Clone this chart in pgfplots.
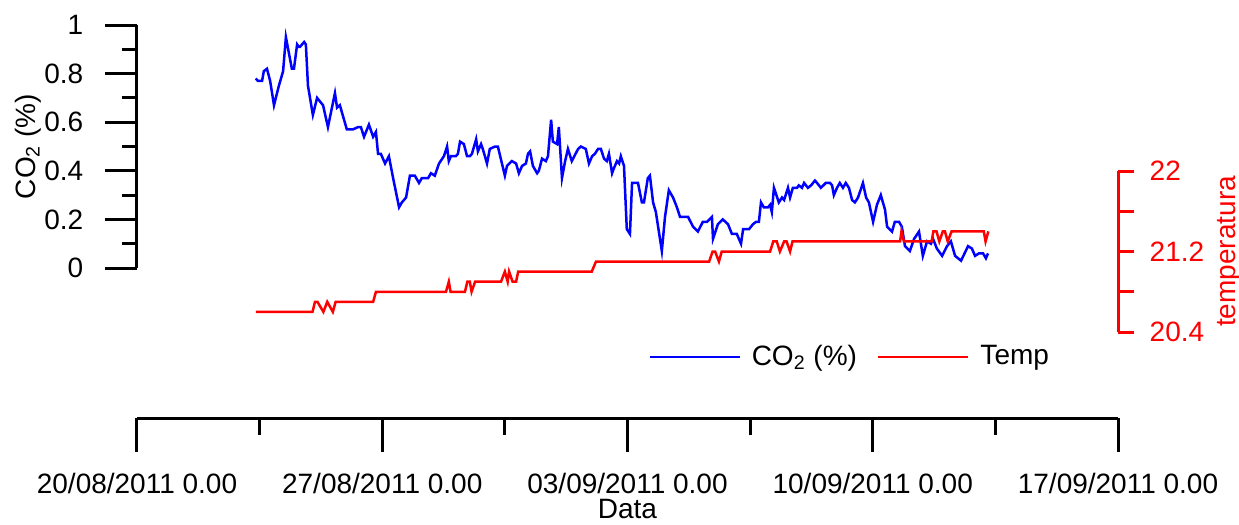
\documentclass[border=0pt]{standalone}
\usepackage{pgfplots}
\pgfplotsset{compat=1.18}
\usepackage{pgfplotstable}
\usepackage{fontspec}
\setmainfont{Liberation Sans}
\newlength\px \setlength\px{0.5pt}
\definecolor{cblue}{RGB}{0,0,255}
\definecolor{cred}{RGB}{255,0,0}

\pgfplotstableread{
day co2
3.39 0.78
3.45 0.77
3.57 0.77
3.62 0.81
3.71 0.82
3.80 0.77
3.91 0.67
4.05 0.75
4.17 0.81
4.25 0.95
4.42 0.82
4.48 0.82
4.57 0.92
4.62 0.91
4.65 0.91
4.77 0.93
4.82 0.92
4.88 0.75
5.02 0.63
5.14 0.70
5.31 0.67
5.45 0.58
5.65 0.72
5.71 0.66
5.79 0.67
5.99 0.57
6.16 0.57
6.31 0.58
6.39 0.58
6.48 0.54
6.62 0.59
6.74 0.54
6.82 0.56
6.88 0.47
6.96 0.47
7.08 0.43
7.19 0.46
7.31 0.37
7.48 0.25
7.56 0.27
7.68 0.29
7.79 0.38
7.93 0.38
8.05 0.35
8.13 0.37
8.31 0.37
8.39 0.39
8.50 0.38
8.62 0.43
8.76 0.46
8.85 0.50
8.90 0.44
8.96 0.46
9.10 0.46
9.16 0.47
9.22 0.52
9.33 0.51
9.42 0.46
9.50 0.46
9.56 0.47
9.68 0.53
9.73 0.48
9.82 0.51
9.87 0.49
9.99 0.43
10.07 0.49
10.22 0.50
10.30 0.50
10.50 0.38
10.56 0.42
10.70 0.44
10.82 0.43
10.90 0.39
10.99 0.42
11.10 0.43
11.16 0.47
11.22 0.48
11.30 0.42
11.42 0.39
11.47 0.40
11.56 0.45
11.67 0.44
11.73 0.46
11.82 0.61
11.87 0.52
11.99 0.51
12.04 0.58
12.13 0.37
12.22 0.44
12.30 0.49
12.41 0.44
12.59 0.49
12.67 0.50
12.81 0.49
12.90 0.43
12.99 0.46
13.07 0.47
13.16 0.49
13.24 0.49
13.33 0.45
13.41 0.44
13.47 0.47
13.56 0.39
13.61 0.41
13.70 0.44
13.76 0.43
13.81 0.46
13.90 0.42
13.98 0.16
14.07 0.14
14.13 0.35
14.30 0.35
14.41 0.27
14.47 0.27
14.58 0.37
14.64 0.38
14.73 0.27
14.81 0.23
14.98 0.07
15.07 0.21
15.18 0.32
15.30 0.29
15.41 0.25
15.50 0.21
15.61 0.21
15.73 0.21
15.87 0.17
16.01 0.15
16.15 0.19
16.27 0.19
16.41 0.21
16.44 0.12
16.58 0.18
16.72 0.20
16.87 0.18
16.98 0.14
17.12 0.14
17.24 0.10
17.30 0.16
17.41 0.16
17.47 0.16
17.58 0.18
17.67 0.19
17.75 0.19
17.81 0.27
17.89 0.25
18.01 0.25
18.07 0.26
18.12 0.23
18.18 0.33
18.32 0.27
18.41 0.29
18.47 0.28
18.58 0.33
18.64 0.29
18.72 0.33
18.84 0.33
18.89 0.34
18.98 0.33
19.04 0.35
19.15 0.33
19.24 0.34
19.35 0.36
19.41 0.35
19.52 0.33
19.66 0.35
19.78 0.35
19.84 0.34
19.89 0.30
19.98 0.33
20.06 0.35
20.15 0.33
20.23 0.35
20.32 0.33
20.41 0.28
20.49 0.27
20.58 0.29
20.72 0.35
20.81 0.29
20.89 0.27
21.01 0.19
21.12 0.26
21.23 0.30
21.35 0.24
21.41 0.17
21.55 0.15
21.63 0.19
21.75 0.19
21.83 0.17
21.92 0.09
22.06 0.07
22.18 0.12
22.32 0.15
22.43 0.05
22.55 0.11
22.66 0.10
22.72 0.12
22.83 0.08
22.98 0.05
23.12 0.09
23.23 0.11
23.35 0.05
23.52 0.03
23.72 0.09
23.83 0.08
23.92 0.05
24.03 0.06
24.15 0.06
24.23 0.04
24.29 0.06
}\co

\pgfplotstableread{
day temp
3.39 20.6
5.01 20.6
5.08 20.7
5.15 20.7
5.32 20.6
5.43 20.7
5.59 20.6
5.67 20.7
6.74 20.7
6.82 20.8
8.82 20.8
8.90 20.9
8.95 20.8
9.36 20.8
9.43 20.9
9.50 20.9
9.55 20.8
9.65 20.9
10.39 20.9
10.50 21.0
10.58 20.9
10.62 21.0
10.72 20.9
10.82 20.9
10.88 21.0
12.98 21.0
13.10 21.1
16.33 21.1
16.43 21.2
16.50 21.2
16.61 21.1
16.69 21.2
18.07 21.2
18.16 21.3
18.26 21.3
18.35 21.2
18.47 21.3
18.54 21.3
18.64 21.2
18.71 21.3
21.78 21.3
21.82 21.4
21.89 21.3
22.68 21.3
22.73 21.4
22.82 21.4
22.90 21.3
23.00 21.4
23.06 21.4
23.14 21.3
23.25 21.4
24.17 21.4
24.22 21.3
24.30 21.4
}\te

\begin{document}
\fontsize{14}{16.8}\selectfont
\begin{tikzpicture}
\path[use as bounding box] (0,0) rectangle (1239\px,-525\px);
\pgfplotsset{
  common/.style={
    scale only axis, width=981\px, xmin=0, xmax=28,
    /pgf/number format/assume math mode=true,
    tick label style={font=\fontsize{14}{16.8}\selectfont},
    label style={font=\fontsize{14}{16.8}\selectfont},
    axis line style={line width=3\px},
    tick style={line width=3\px, black},
    tick align=outside,
    clip=false,
  }
}
% CO2 axis
\begin{axis}[common,
  at={(137\px,-268\px)}, anchor=south west,
  height=243\px,
  hide x axis, axis y line*=left,
  ymin=0, ymax=1,
  ytick={0,0.2,0.4,0.6,0.8,1},
  yticklabels={0,0.2,0.4,0.6,0.8,1},
  minor ytick={0.1,0.3,0.5,0.7,0.9},
  major tick length=32\px, minor tick length=15\px,
  yticklabel style={xshift=-12\px},
  ylabel={CO\textsubscript{2} (\%)},
  ylabel style={at={(rel axis cs:0,0.5)}, anchor=center, yshift=109\px},
]
\addplot[cblue, line width=2.5\px] table[x=day, y=co2] {\co};
\end{axis}
% temperature axis
\begin{axis}[common,
  at={(137\px,-332\px)}, anchor=south west,
  height=161\px,
  hide x axis, axis y line*=right,
  ymin=20.4, ymax=22,
  ytick={20.4,20.8,21.2,21.6,22},
  yticklabels={20.4,,21.2,,22},
  major tick length=16\px,
  y axis line style={cred},
  ytick style={cred},
  yticklabel style={text=cred, xshift=6\px},
  ylabel={temperatura},
  ylabel style={at={(rel axis cs:1,0.5)}, anchor=center, text=cred, yshift=-111\px},
  legend columns=2,
  legend style={draw=none, fill=none, at={(0.731,-0.155)}, anchor=center,
    font=\fontsize{14}{16.8}\selectfont,
    /tikz/every even column/.append style={column sep=9\px},
    nodes={inner xsep=11\px}},
  legend image code/.code={\draw[#1] (0pt,0pt) -- (90\px,0pt);},
]
\addlegendimage{cblue, line width=2.5\px}
\addlegendentry{CO\textsubscript{2} (\%)}
\addplot[cred, line width=2.5\px] table[x=day, y=temp] {\te};
\addlegendentry{Temp}
\end{axis}
% date axis
\begin{axis}[common,
  at={(137\px,-418\px)}, anchor=south west,
  height=10\px,
  axis x line*=bottom, hide y axis,
  ymin=0, ymax=1,
  xtick={0,7,14,21,28},
  xticklabels={20/08/2011 0.00,27/08/2011 0.00,03/09/2011 0.00,10/09/2011 0.00,17/09/2011 0.00},
  minor xtick={3.5,10.5,17.5,24.5},
  major tick length=34\px, minor tick length=17\px,
  xticklabel style={inner sep=0pt, yshift=-21\px},
  xlabel={Data},
  xlabel style={at={(rel axis cs:0.5,0)}, anchor=center, inner sep=0pt, yshift=-91\px},
]
\addplot[draw=none] coordinates {(0,0)};
\end{axis}
\end{tikzpicture}
\end{document}
